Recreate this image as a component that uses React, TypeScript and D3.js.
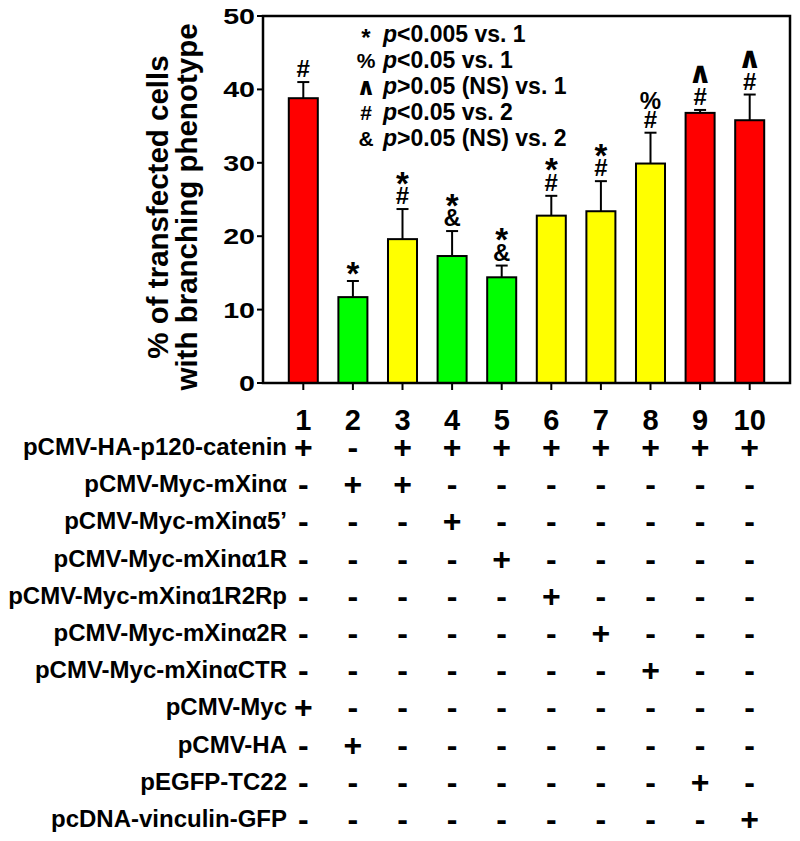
import * as d3 from 'd3'

const categories = ['1', '2', '3', '4', '5', '6', '7', '8', '9', '10']
const means = [38.8, 11.7, 19.6, 17.3, 14.4, 22.8, 23.4, 29.9, 36.8, 35.8]
const errors = [2.2, 2.2, 4.1, 3.4, 1.6, 2.7, 4.1, 4.2, 0.4, 3.5]
const barColors = ['#FF0000', '#00FF00', '#FFFF00', '#00FF00', '#00FF00', '#FFFF00', '#FFFF00', '#FFFF00', '#FF0000', '#FF0000']
// significance marks, upper and lower line over each bar
const sigUpper = ['', '', '*', '*', '*', '*', '*', '%', '∧', '∧']
const sigLower = ['#', '*', '#', '&', '&', '#', '#', '#', '#', '#']

const legendSymbols = ['*', '%', '∧', '#', '&']
const legendTexts = ['<0.005 vs. 1', '<0.05 vs. 1', '>0.05 (NS) vs. 1', '<0.05 vs. 2', '>0.05 (NS) vs. 2']

const plasmids = [
  'pCMV-HA-p120-catenin',
  'pCMV-Myc-mXinα',
  'pCMV-Myc-mXinα5’',
  'pCMV-Myc-mXinα1R',
  'pCMV-Myc-mXinα1R2Rp',
  'pCMV-Myc-mXinα2R',
  'pCMV-Myc-mXinαCTR',
  'pCMV-Myc',
  'pCMV-HA',
  'pEGFP-TC22',
  'pcDNA-vinculin-GFP',
]
const plasmidUse = [
  '+-++++++++',
  '-++-------',
  '---+------',
  '----+-----',
  '-----+----',
  '------+---',
  '-------+--',
  '+---------',
  '-+--------',
  '--------+-',
  '---------+',
]

const FONT = '"Liberation Sans", Arial, sans-serif'

export default function App() {
  const width = 800
  const height = 841
  const left = 263, right = 790, top = 16, bottom = 383

  const x = d3.scaleBand<string>()
    .domain(categories)
    .range([left, right])
    .paddingInner(0.415)
    .paddingOuter(0.52)
  const y = d3.scaleLinear().domain([0, 50]).range([bottom, top])
  const rowY = d3.scalePoint<string>().domain(plasmids).range([458, 830])

  const cx = (c: string) => (x(c) as number) + x.bandwidth() / 2

  // one significance symbol, base = baseline of its text line
  const mark = (sym: string, xc: number, base: number, legend = false) => {
    if (sym === '*') {
      return <text x={xc} y={base + (legend ? 4 : 9.5)} fontSize={legend ? 24 : 33}
        fontWeight="bold" textAnchor="middle">*</text>
    }
    if (sym === '∧') {
      return <text x={xc} y={base + (legend ? 1 : -3)} fontSize={legend ? 24 : 30} fontWeight="bold"
        fontFamily='"DejaVu Sans", sans-serif' textAnchor="middle">∧</text>
    }
    return <text x={xc} y={base} fontSize={legend ? 21 : 24} fontWeight="bold" textAnchor="middle">{sym}</text>
  }

  return (
    <svg width={width} height={height} style={{ position: 'absolute', left: 0, top: 0 }}
      fontFamily={FONT} fill="#000">
      <rect x={0} y={0} width={width} height={height} fill="#fff" />

      {/* bars */}
      {categories.map((c, i) => (
        <rect key={c} x={x(c)} y={y(means[i])} width={x.bandwidth()} height={y(0) - y(means[i])}
          fill={barColors[i]} stroke="#000" strokeWidth={2} />
      ))}

      {/* error bars (upper only) */}
      {categories.map((c, i) => {
        const e = y(means[i] + errors[i])
        return (
          <g key={'e' + c} stroke="#000" strokeWidth={2}>
            <line x1={cx(c)} x2={cx(c)} y1={y(means[i])} y2={e} />
            <line x1={cx(c) - 6} x2={cx(c) + 6} y1={e} y2={e} />
          </g>
        )
      })}

      {/* significance marks */}
      {categories.map((c, i) => {
        const base = y(means[i] + errors[i]) - 5
        return (
          <g key={'s' + c}>
            {mark(sigLower[i], cx(c), base)}
            {sigUpper[i] && mark(sigUpper[i], cx(c), base - 19)}
          </g>
        )
      })}

      {/* frame */}
      <rect x={left} y={top} width={right - left} height={bottom - top} fill="none" stroke="#000" strokeWidth={2.5} />

      {/* y ticks */}
      {y.ticks(5).map(t => (
        <g key={'y' + t}>
          <line x1={left - 6} x2={left} y1={y(t)} y2={y(t)} stroke="#000" strokeWidth={2} />
          <text transform={`translate(${left - 8},${y(t) + 8}) scale(1.3,1)`} fontSize={22}
            fontWeight="bold" textAnchor="end">{t}</text>
        </g>
      ))}

      {/* x ticks */}
      {categories.map(c => (
        <line key={'t' + c} x1={cx(c)} x2={cx(c)} y1={bottom} y2={bottom + 7} stroke="#000" strokeWidth={2} />
      ))}

      {/* y label */}
      <text transform="translate(168,207) rotate(-90)" fontSize={29.5} fontWeight="bold" textAnchor="middle">
        % of transfected cells
      </text>
      <text transform="translate(197,207) rotate(-90)" fontSize={29.5} fontWeight="bold" textAnchor="middle">
        with branching phenotype
      </text>

      {/* legend */}
      {legendTexts.map((t, i) => {
        const base = 42 + i * 26
        return (
          <g key={'l' + i}>
            {mark(legendSymbols[i], 366, base, true)}
            <text x={383} y={base} fontSize={23} fontWeight="bold">
              <tspan fontStyle="italic">p</tspan>{t}
            </text>
          </g>
        )
      })}

      {/* lane numbers */}
      {categories.map(c => (
        <text key={'n' + c} x={cx(c)} y={430} fontSize={29} fontWeight="bold" textAnchor="middle">{c}</text>
      ))}

      {/* plasmid table */}
      {plasmids.map((p, r) => (
        <g key={p}>
          <text x={287} y={(rowY(p) as number) - 3} fontSize={24} fontWeight="bold" textAnchor="end">{p}</text>
          {categories.map((c, j) => (
            <text key={c} x={cx(c)} y={rowY(p)} fontSize={32} fontWeight="bold" textAnchor="middle">
              {plasmidUse[r][j]}
            </text>
          ))}
        </g>
      ))}
    </svg>
  )
}
